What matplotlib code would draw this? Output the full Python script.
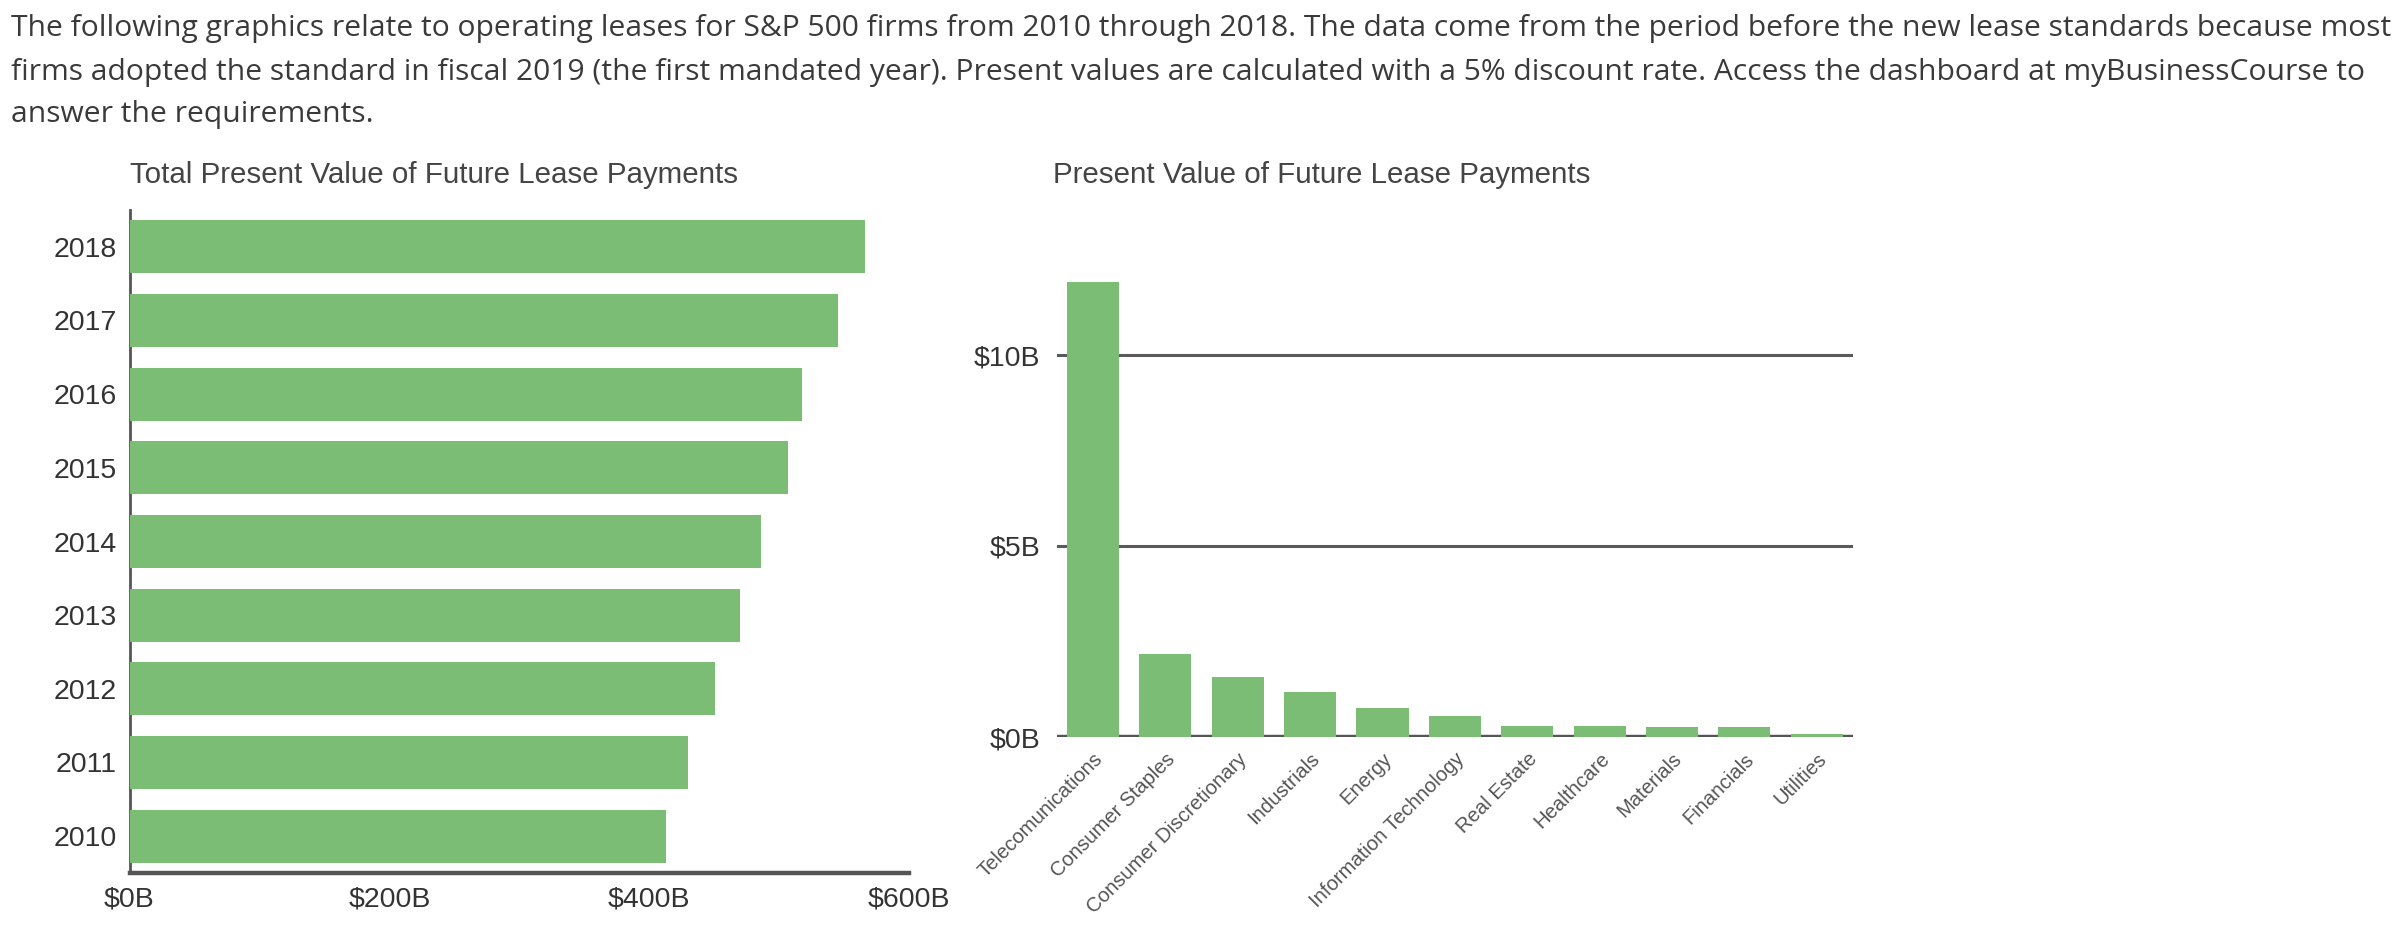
import matplotlib
matplotlib.use("Agg")
import matplotlib.pyplot as plt

# ---------------- data ----------------
years = ["2010", "2011", "2012", "2013", "2014", "2015", "2016", "2017", "2018"]
total_pv = [413, 430, 451, 470, 486, 507, 518, 545, 566]  # $B

sectors = ["Telecomunications", "Consumer Staples", "Consumer Discretionary",
           "Industrials", "Energy", "Information Technology", "Real Estate",
           "Healthcare", "Materials", "Financials", "Utilities"]
sector_pv = [11.9, 2.16, 1.57, 1.19, 0.76, 0.55, 0.28, 0.29, 0.25, 0.25, 0.09]  # $B

left_xticks = [0, 200, 400, 600]
left_xticklabels = ["$0B", "$200B", "$400B", "$600B"]
right_yticks = [0, 5, 10]
right_yticklabels = ["$0B", "$5B", "$10B"]

intro_lines = [
    "The following graphics relate to operating leases for S&P 500 firms from 2010 through 2018. The data come from the period before the new lease standards because most",
    "firms adopted the standard in fiscal 2019 (the first mandated year). Present values are calculated with a 5% discount rate. Access the dashboard at myBusinessCourse to",
    "answer the requirements.",
]
left_title = "Total Present Value of Future Lease Payments"
right_title = "Present Value of Future Lease Payments"

# ---------------- style ----------------
W, H = 2398, 938
GREEN = "#7bbd75"
AXIS = "#555555"
TXT = "#333333"
CHART_FONT = "Liberation Sans"

fig = plt.figure(figsize=(W / 100, H / 100), dpi=100)
fig.patch.set_facecolor("white")
renderer = fig.canvas.get_renderer()


def fit(t, target_px):
    fs = t.get_fontsize()
    w = t.get_window_extent(renderer).width
    t.set_fontsize(fs * target_px / w)
    return t


def fx(px):
    return px / W


def fy(py):
    return 1 - py / H


# ---------------- intro paragraph ----------------
baselines = [36, 80, 122]
first = None
for i, (line, yb) in enumerate(zip(intro_lines, baselines)):
    t = fig.text(fx(11), fy(yb), line, fontsize=20, family="Open Sans",
                 color="#3a3a3a", va="baseline", ha="left")
    if i == 0:
        fit(t, 2369)
        first = t.get_fontsize()
    else:
        t.set_fontsize(first)

# ---------------- titles ----------------
t1 = fig.text(fx(129.5), fy(183), left_title, fontsize=20, family=CHART_FONT,
              color="#444444", va="baseline", ha="left")
fit(t1, 607)
t2 = fig.text(fx(1053), fy(183), right_title, fontsize=20, family=CHART_FONT,
              color="#444444", va="baseline", ha="left")
fit(t2, 536)

# ---------------- left chart ----------------
axL = fig.add_axes([fx(129.5), fy(873), fx(909 - 129.5), (873 - 210) / H])
ypos = list(range(len(years)))
axL.barh(ypos, total_pv, height=0.72, color=GREEN, zorder=3)
axL.set_xlim(0, 600)
axL.set_ylim(-0.5, len(years) - 0.5)
axL.set_yticks(ypos)
axL.set_yticklabels(years)
axL.set_xticks(left_xticks)
axL.set_xticklabels(left_xticklabels)
for s in ["top", "right"]:
    axL.spines[s].set_visible(False)
axL.spines["left"].set_color(AXIS)
axL.spines["left"].set_linewidth(2)
axL.spines["left"].set_zorder(1)
axL.spines["bottom"].set_color(AXIS)
axL.spines["bottom"].set_linewidth(3.2)
axL.tick_params(axis="y", length=0, pad=9, labelsize=20.5, labelcolor=TXT)
axL.tick_params(axis="x", length=0, pad=10, labelsize=20.5, labelcolor=TXT)
for lab in axL.get_xticklabels() + axL.get_yticklabels():
    lab.set_family(CHART_FONT)
axL.set_facecolor("none")

# ---------------- right chart ----------------
top = 13.0
px_per_b = 191 / 5
axR = fig.add_axes([fx(1056.7), fy(737), fx(1853 - 1056.7), top * px_per_b / H])
xpos = list(range(len(sectors)))
axR.bar(xpos, sector_pv, width=0.72, color=GREEN, zorder=3)
axR.set_xlim(-0.5, len(sectors) - 0.5)
axR.set_ylim(0, top)
axR.set_yticks(right_yticks)
axR.set_yticklabels(right_yticklabels)
axR.set_xticks(xpos)
axR.set_xticklabels(sectors, rotation=45, ha="right", va="top",
                    rotation_mode="anchor")
for s in ["top", "right", "left", "bottom"]:
    axR.spines[s].set_visible(False)
for v in right_yticks:
    if v == 0:
        axR.axhline(v, color=AXIS, linewidth=3.2, zorder=2)
    else:
        axR.axhline(v, color="#5a5a5a", linewidth=2.2, zorder=2)
axR.tick_params(axis="y", length=0, pad=12, labelsize=20.5, labelcolor=TXT)
axR.tick_params(axis="x", length=0, pad=9, labelcolor="#555555")
for lab in axR.get_yticklabels():
    lab.set_family(CHART_FONT)
labs = axR.get_xticklabels()
for lab in labs:
    lab.set_family(CHART_FONT)
# size the rotated labels from the first one's length
probe = fig.text(0, 0, sectors[0], fontsize=14, family=CHART_FONT)
fit(probe, 168)
lfs = probe.get_fontsize()
probe.remove()
for lab in labs:
    lab.set_fontsize(lfs)
axR.set_facecolor("none")

fig.savefig("out.png", dpi=100, facecolor="white")
